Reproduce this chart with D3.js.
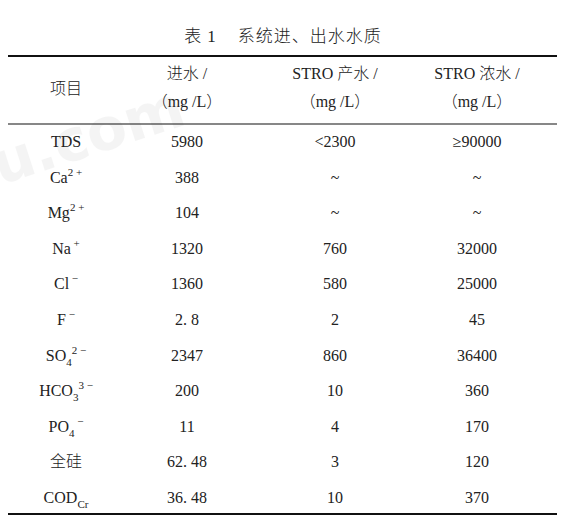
<!DOCTYPE html>
<html><head><meta charset="utf-8">
<script src="https://cdn.jsdelivr.net/npm/d3@7"></script>
<style>body{margin:0;background:#fff}text{font-family:"Liberation Serif","Noto Sans CJK SC",serif;fill:#222;white-space:pre}</style>
</head><body><svg id="t"></svg>
<script>
// table content
const title = "表 1    系统进、出水水质";
const headers = [["项目"], ["进水 /", "（mg /L）"], ["STRO 产水 /", "（mg /L）"], ["STRO 浓水 /", "（mg /L）"]];
// item labels: pieces of [text, kind] with kind n=normal, b=sub, p=sup
const items = [
  [["TDS","n"]],
  [["Ca","n"],["2 +","p"]],
  [["Mg","n"],["2 +","p"]],
  [["Na","n"],[" +","p"]],
  [["Cl","n"],[" −","p"]],
  [["F","n"],[" −","p"]],
  [["SO","n"],["4","b"],["2 −","p"]],
  [["HCO","n"],["3","b"],["3 −","p"]],
  [["PO","n"],["4","b"],[" −","p"]],
  [["全硅","n"]],
  [["COD","n"],["Cr","b"]]
];
const inflow = ["5980","388","104","1320","1360","2. 8","2347","200","11","62. 48","36. 48"];
const product = ["<2300","~","~","760","580","2","860","10","4","3","10"];
const concentrate = ["≥90000","~","~","32000","25000","45","36400","360","170","120","370"];

const width = 565, height = 523;
const svg = d3.select("#t").attr("width", width).attr("height", height);

// faint watermark
svg.append("text").attr("x", 0).attr("y", 185).attr("transform", "rotate(-18,0,185)")
  .style("font-family", "DejaVu Sans").style("font-weight", "bold").style("font-size", "58px")
  .style("fill", "#000").style("opacity", 0.04).text("u.com");

const xc = i => [66, 187, 335, 477][i];
const y = d3.scalePoint().domain(d3.range(items.length)).range([141, 497]);

svg.append("text").attr("x", 283).attr("y", 42).attr("text-anchor", "middle")
  .style("font-size", "17px").style("font-weight", 300).style("letter-spacing", "1px").text(title);

const rule = (yy, w) => svg.append("line").attr("x1", 8).attr("x2", 557)
  .attr("y1", yy).attr("y2", yy).attr("stroke", "#111").attr("stroke-width", w);
rule(56, 2); rule(124, 1.2); rule(514, 2);

headers.forEach((h, i) => {
  h.forEach((line, j) => {
    const yy = h.length === 1 ? 94 : 79 + j * 28;
    svg.append("text").attr("x", xc(i)).attr("y", yy).attr("text-anchor", "middle")
      .style("font-size", "16px").style("font-weight", 300).text(line);
  });
});

const fs = "16px";
items.forEach((parts, r) => {
  const t = svg.append("text").attr("x", xc(0)).attr("y", y(r) + 6).attr("text-anchor", "middle")
    .style("font-size", fs).style("font-weight", 300);
  let prev = 0;
  parts.forEach(([s, k]) => {
    const target = k === "b" ? 5 : k === "p" ? -7 : 0;
    const sp = t.append("tspan").text(s).attr("dy", target - prev);
    if (k !== "n") sp.style("font-size", "11px");
    prev = target;
  });
  [inflow, product, concentrate].forEach((col, c) => {
    svg.append("text").attr("x", xc(c + 1)).attr("y", y(r) + 6).attr("text-anchor", "middle")
      .style("font-size", fs).text(col[r]);
  });
});
</script></body></html>
